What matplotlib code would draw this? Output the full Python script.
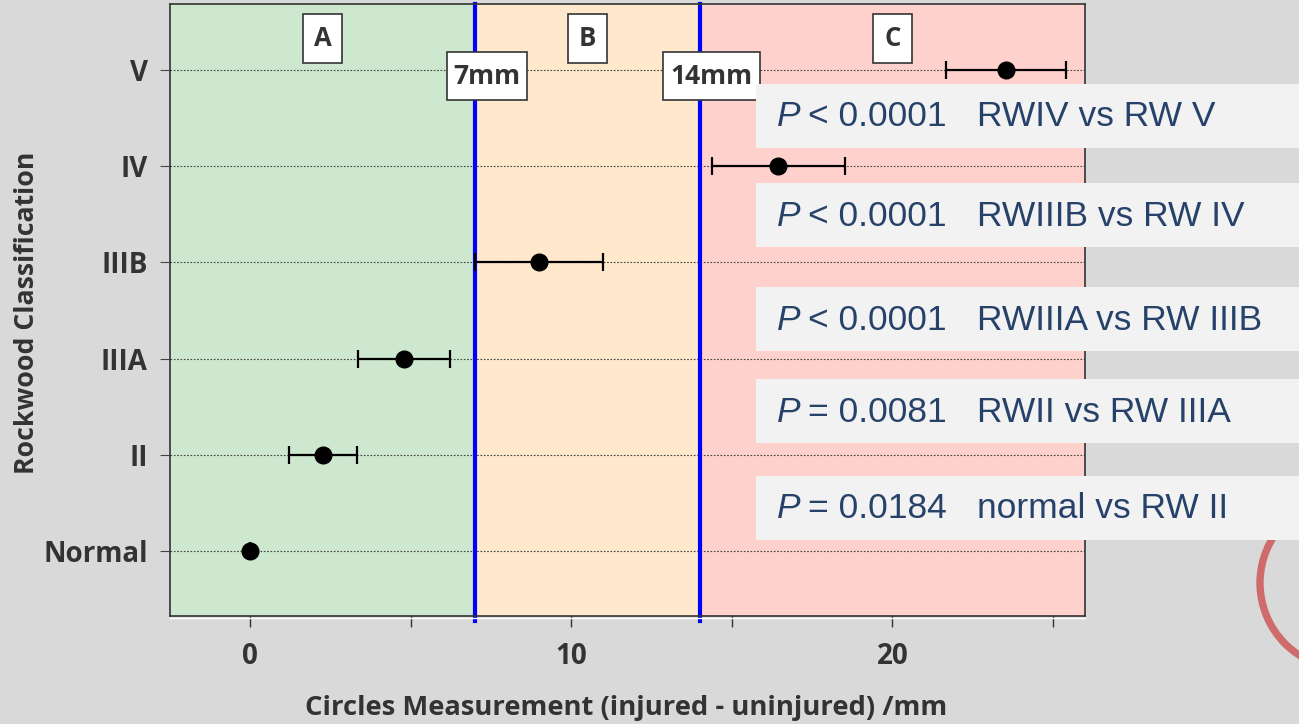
import matplotlib
matplotlib.use("Agg")
import matplotlib.pyplot as plt
from matplotlib.patches import Rectangle, Circle
from matplotlib.lines import Line2D

# Rockwood classes, bottom to top
categories = ["Normal", "II", "IIIA", "IIIB", "IV", "V"]
means = [0.0, 2.27, 4.80, 9.00, 16.45, 23.55]
errors = [0.0, 1.06, 1.43, 2.00, 2.07, 1.87]

zone_edges = [-2.5, 7, 14, 26]
zone_names = ["A", "B", "C"]
zone_colors = ["#cde8cf", "#ffe8cc", "#ffd1cc"]
thresholds = [7, 14]
threshold_labels = ["7mm", "14mm"]

p_texts = ["< 0.0001", "< 0.0001", "< 0.0001", "= 0.0081", "= 0.0184"]
comparisons = ["RWIV vs RW V", "RWIIIB vs RW IV", "RWIIIA vs RW IIIB",
               "RWII vs RW IIIA", "normal vs RW II"]

W, H = 1299, 724
fig = plt.figure(figsize=(W / 100, H / 100), dpi=100, facecolor="#d9d9d9")


def fx(px):
    return px / W


def fy(py):
    return 1 - py / H


AX_L, AX_R, AX_T, AX_B = 170, 1085, 4, 616
ax = fig.add_axes([fx(AX_L), fy(AX_B), fx(AX_R - AX_L), (AX_B - AX_T) / H])
XLIM = (-2.5, 26)
YLIM = (-0.68, 5.69)
ax.set_xlim(*XLIM)
ax.set_ylim(*YLIM)

# data units per pixel, for boxes sized in pixels
ux = (XLIM[1] - XLIM[0]) / (AX_R - AX_L)
uy = (YLIM[1] - YLIM[0]) / (AX_B - AX_T)

bold = dict(family="Open Sans", weight="bold", color="#333333")


def label_box(x, y, text, w_px, h_px, size):
    ax.add_patch(Rectangle((x - w_px * ux / 2, y - h_px * uy / 2),
                           w_px * ux, h_px * uy, fc="white", ec="#333333",
                           lw=1.2, zorder=5))
    ax.text(x, y, text, ha="center", va="center", fontsize=size, zorder=6,
            **bold)


# coloured zones
for (x0, x1), c in zip(zip(zone_edges[:-1], zone_edges[1:]), zone_colors):
    ax.axvspan(x0, x1, color=c, zorder=0, lw=0)

# dotted reference lines per class
ypos = list(range(len(categories)))
for y in ypos:
    ax.axhline(y, color="#444444", lw=0.8, ls=(0, (1.5, 1.5)), zorder=1)

for t in thresholds:
    ax.axvline(t, ymin=-0.008, ymax=1, color="#0000ff", lw=3, zorder=2,
               clip_on=False)

ax.errorbar(means, ypos, xerr=errors, fmt="o", color="black", ms=12,
            elinewidth=1.6, capsize=6.5, capthick=1.6, zorder=4)

# zone letters
for (x0, x1), name in zip(zip(zone_edges[:-1], zone_edges[1:]), zone_names):
    label_box((x0 + x1) / 2, 5.33, name, 39, 49, 18.5)

# threshold labels
for t, lab, w in zip(thresholds, threshold_labels, [80, 97]):
    label_box(t + 0.38, 4.94, lab, w, 48, 19)

ax.set_yticks(ypos)
ax.set_yticklabels(categories)
ax.set_xticks([0, 10, 20])
ax.set_xticks([5, 15, 25], minor=True)
for lab in ax.get_xticklabels() + ax.get_yticklabels():
    lab.set_fontfamily("Open Sans")
    lab.set_fontweight("bold")
    lab.set_fontsize(20)
    lab.set_color("#333333")
ax.tick_params(axis="x", which="both", length=8, width=1, color="#333333",
               pad=10.5)
ax.tick_params(axis="y", length=7, width=0.8, color="#444444", pad=9)
for s in ax.spines.values():
    s.set_color("#333333")
    s.set_linewidth(1.2)

# thin light rule under the plot frame
fig.lines.append(Line2D([fx(AX_L), fx(AX_R)], [fy(AX_B + 2)] * 2,
                        transform=fig.transFigure, color="white", lw=1.0))

fig.text(fx(626), fy(708), "Circles Measurement (injured - uninjured) /mm",
         ha="center", va="center", fontsize=19.7, **bold)
fig.text(fx(27), fy(313), "Rockwood Classification", ha="center",
         va="center", rotation=90, fontsize=19.2, **bold)

# decorative ring at lower right
ring = Circle((1346, H - 583), 86, transform=None, fill=False,
              ec="#cf6b6b", lw=5.3, zorder=1.5)
fig.patches.append(ring)

# p-value panels
box_tops = [84, 183, 287, 379, 476]
navy = "#27426a"
pfont = dict(family="Liberation Sans", fontsize=25.5, color=navy,
             va="center", ha="left", zorder=3)
for top, p, comp in zip(box_tops, p_texts, comparisons):
    fig.patches.append(Rectangle((fx(756), fy(top + 64)), fx(W - 756),
                                 64 / H, transform=fig.transFigure,
                                 fc="#f2f2f2", ec="none", zorder=2))
    yc = fy(top + 33)
    fig.text(fx(777), yc, "P", style="italic", **pfont)
    fig.text(fx(808), yc, p, **pfont)
    fig.text(fx(977), yc, comp, **pfont)

fig.savefig("out.png", dpi=100, facecolor=fig.get_facecolor())
